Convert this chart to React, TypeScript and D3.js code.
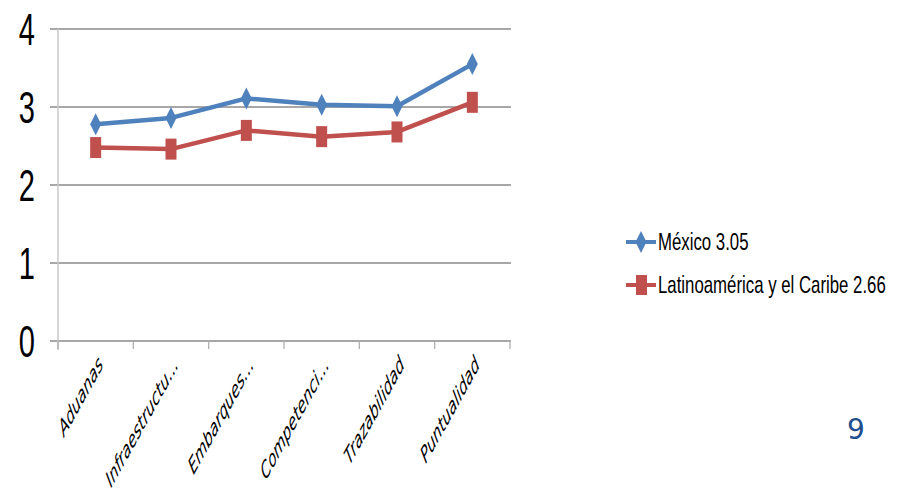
import React from "react";
import * as d3 from "d3";

const categories = ["Aduanas", "Infraestructu...", "Embarques...", "Competenci...", "Trazabilidad", "Puntualidad"];
const mexico = [2.78, 2.86, 3.11, 3.03, 3.01, 3.55];
const latam = [2.48, 2.46, 2.70, 2.62, 2.68, 3.06];
const yTicks = [0, 1, 2, 3, 4];
const seriesNames = ["México 3.05", "Latinoamérica y el Caribe 2.66"];
const pageNumber = "9";

const W = 905, H = 494;
const left = 58, right = 510, top = 29, bottom = 341;

export default function App() {
  const x = d3.scaleBand<string>().domain(categories).range([left, right]);
  const y = d3.scaleLinear().domain([0, 4]).range([bottom, top]);
  const cx = (c: string) => (x(c) as number) + x.bandwidth() / 2;
  const line = d3.line<number>().x((_, i) => cx(categories[i])).y(v => y(v));
  const diamond = (px: number, py: number) => `M${px},${py - 11}L${px + 5.5},${py}L${px},${py + 11}L${px - 5.5},${py}Z`;
  const blue = "#4F81BD", red = "#C0504D";
  const bounds = [...categories.map(c => x(c) as number), right];
  const condensed = "'Liberation Sans', Arial, sans-serif";

  return (
    <svg width={W} height={H} style={{ position: "absolute", left: 0, top: 0, background: "#fff" }}>
      {yTicks.map(t => (
        <line key={"g" + t} x1={50} x2={511} y1={y(t)} y2={y(t)} stroke="#8a8a8a" strokeWidth={1.3} />
      ))}
      <line x1={left} x2={left} y1={top} y2={350} stroke="#c8c8c8" strokeWidth={1.5} />
      {bounds.map((b, i) => (
        <line key={"t" + i} x1={b} x2={b} y1={bottom} y2={349} stroke="#b0b0b0" strokeWidth={1.3} />
      ))}
      {yTicks.map(t => (
        <text key={"y" + t} transform={`translate(35,${y(t) + 16}) scale(0.66,1)`} textAnchor="end"
          fontFamily={condensed} fontSize={44} fill="#000">{t}</text>
      ))}
      {categories.map(c => (
        <text key={"x" + c} transform={`translate(${cx(c) + 8},${bottom + 25}) scale(1,1.8) rotate(-45)`} textAnchor="end"
          fontFamily="'DejaVu Sans', Verdana, sans-serif" fontStyle="italic" fontSize={13} fill="#000">{c}</text>
      ))}
      <path d={line(mexico) || ""} fill="none" stroke={blue} strokeWidth={4.5} strokeLinejoin="round" />
      <path d={line(latam) || ""} fill="none" stroke={red} strokeWidth={4.5} strokeLinejoin="round" />
      {mexico.map((v, i) => (
        <path key={"m" + i} d={diamond(cx(categories[i]), y(v))} fill={blue} />
      ))}
      {latam.map((v, i) => (
        <rect key={"l" + i} x={cx(categories[i]) - 5.5} y={y(v) - 10.5} width={11} height={21} fill={red} />
      ))}
      <g>
        <line x1={626} x2={656} y1={242} y2={242} stroke={blue} strokeWidth={4} />
        <path d={diamond(641, 242)} fill={blue} />
        <text transform={`translate(658,250) scale(0.7,1)`} fontFamily={condensed} fontSize={24} fill="#000">{seriesNames[0]}</text>
        <line x1={626} x2={656} y1={285} y2={285} stroke={red} strokeWidth={4} />
        <rect x={636} y={275} width={11} height={20} fill={red} />
        <text transform={`translate(658,293) scale(0.7,1)`} fontFamily={condensed} fontSize={24} fill="#000">{seriesNames[1]}</text>
      </g>
      <text x={856} y={439} textAnchor="middle" fontFamily="'DejaVu Sans', sans-serif" fontSize={28} fill="#1F4E8C">{pageNumber}</text>
    </svg>
  );
}
